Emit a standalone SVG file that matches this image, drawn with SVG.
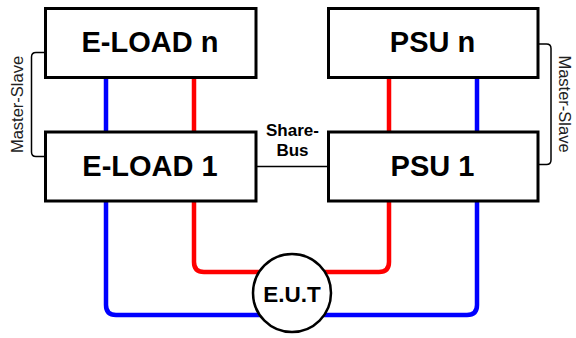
<svg xmlns="http://www.w3.org/2000/svg" width="576" height="338" viewBox="0 0 576 338">
<style>
.box{fill:#fff;stroke:#000;stroke-width:3}
.big{font-family:"Liberation Sans",Arial,sans-serif;font-weight:bold;font-size:29px;fill:#000;text-anchor:middle}
.lbl{font-family:"Liberation Sans",Arial,sans-serif;font-size:16.5px;fill:#222;text-anchor:middle}
.bus{font-family:"Liberation Sans",Arial,sans-serif;font-weight:bold;font-size:17px;fill:#000;text-anchor:middle}
.red{fill:none;stroke:#f00;stroke-width:4.5}
.blue{fill:none;stroke:#00f;stroke-width:4.5}
.thin{fill:none;stroke:#000;stroke-width:1.5}
</style>
<rect width="576" height="338" fill="#fff"/>
<g id="connectors">
<line class="blue" x1="106" y1="78" x2="106" y2="132"/>
<line class="red" x1="194" y1="78" x2="194" y2="132"/>
<line class="red" x1="389" y1="78" x2="389" y2="132"/>
<line class="blue" x1="477" y1="78" x2="477" y2="132"/>
<path class="blue" d="M106 200 V305 Q106 315 116 315 H292"/>
<path class="red" d="M194 200 V262 Q194 272 204 272 H292"/>
<path class="red" d="M389 200 V262 Q389 272 379 272 H292"/>
<path class="blue" d="M477 200 V305 Q477 315 467 315 H292"/>
<line class="thin" x1="256" y1="166.5" x2="328" y2="166.5"/>
<path class="thin" d="M44 52.5 H36 Q31.5 52.5 31.5 57 V152 Q31.5 156.5 36 156.5 H44"/>
<path class="thin" d="M539 44 H546.5 Q551 44 551 48.5 V160 Q551 164.5 546.5 164.5 H539"/>
</g>
<g id="eload-n">
<rect class="box" x="45.5" y="8.5" width="210.5" height="69"/>
<text class="big" x="150" y="52">E-LOAD n</text>
</g>
<g id="eload-1">
<rect class="box" x="45.5" y="132" width="210.5" height="69"/>
<text class="big" x="150" y="176">E-LOAD 1</text>
</g>
<g id="psu-n">
<rect class="box" x="328.5" y="8.5" width="209.5" height="69"/>
<text class="big" x="432.5" y="52">PSU n</text>
</g>
<g id="psu-1">
<rect class="box" x="328.5" y="132" width="209.5" height="69"/>
<text class="big" x="432.5" y="176">PSU 1</text>
</g>
<g id="eut">
<circle cx="292" cy="293" r="39" fill="#fff" stroke="#000" stroke-width="2.5"/>
<text x="292" y="302" font-family="Liberation Sans, Arial, sans-serif" font-weight="bold" font-size="22.5" text-anchor="middle" fill="#000">E.U.T</text>
</g>
<g id="share-bus">
<text class="bus" x="292.5" y="136">Share-</text>
<text class="bus" x="292.5" y="155.5">Bus</text>
</g>
<g id="ms-left">
<text class="lbl" transform="translate(23 104.5) rotate(-90)">Master-Slave</text>
</g>
<g id="ms-right">
<text class="lbl" transform="translate(558.5 104) rotate(90)">Master-Slave</text>
</g>
</svg>
